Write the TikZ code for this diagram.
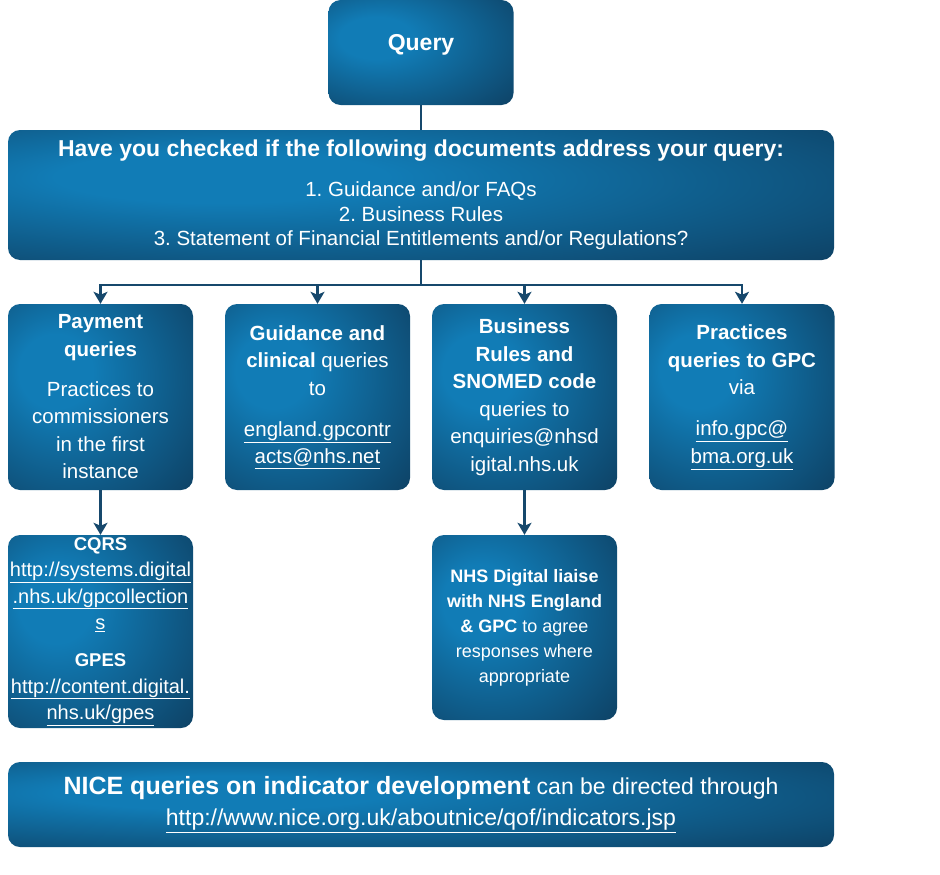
\documentclass[tikz,border=0pt]{standalone}
\usepackage{fontspec}
\setmainfont{Liberation Sans}
\usetikzlibrary{arrows.meta}
\definecolor{glowlight}{RGB}{17,124,182}
\definecolor{glowdark}{RGB}{13,52,82}
\definecolor{linkline}{RGB}{22,72,108}
\pgfdeclareradialshading{boxglow}{\pgfpoint{-14bp}{8bp}}{color(0bp)=(glowlight); color(10bp)=(glowlight); color(50bp)=(glowdark); color(75bp)=(glowdark)}
\newcommand{\fs}[2]{\fontsize{#1}{#2}\selectfont}
\frenchspacing

\begin{document}
\begin{tikzpicture}[x=1pt,y=-1pt,
        box/.style={rounded corners=12pt, shading=boxglow, text=white, align=center, inner sep=0pt},
        trunk/.style={draw=linkline, line width=2.8pt},
        link/.style={trunk, -{Stealth[length=12pt,width=14pt,inset=3pt]}}]
        \useasboundingbox (0,0) rectangle (940,875);
        \node[box, minimum width=185pt, minimum height=105pt, text depth=21pt, font=\fs{23}{28}\bfseries](query) at (421,52.5) {Query};
        \node[box, minimum width=826pt, minimum height=130pt, font=\fs{20.5}{24.5}](check) at (421,195)
            {{\fs{23}{27}\bfseries Have you checked if the following documents address your query:}\\[15.5pt]
             1. Guidance and/or FAQs\\ 2. Business Rules\\ 3. Statement of Financial Entitlements and/or Regulations?};
        \node[box, minimum width=185pt, minimum height=186pt, font=\fs{20.5}{27.5}](pay) at (100.5,397)
            {\textbf{Payment}\\ \textbf{queries}\\[12.5pt] Practices to\\ commissioners\\ in the first\\ instance};
        \node[box, minimum width=185pt, minimum height=186pt, font=\fs{20.5}{27.5}](guide) at (317.5,397)
            {\textbf{Guidance and}\\ \textbf{clinical} queries\\ to\\[13.5pt] \underline{england.gpcontr}\\ \underline{acts@nhs.net}};
        \node[box, minimum width=185pt, minimum height=186pt, font=\fs{20.5}{27.5}](rules) at (524.5,397)
            {\textbf{Business}\\ \textbf{Rules and}\\ \textbf{SNOMED code}\\ queries to\\ enquiries@nhsd\\ igital.nhs.uk};
        \node[box, minimum width=185pt, minimum height=186pt, font=\fs{20.5}{27.5}](gpc) at (742,397)
            {\textbf{Practices}\\ \textbf{queries to GPC}\\ via\\[13.5pt] \underline{info.gpc@}\\ \underline{bma.org.uk}};
        \node[box, minimum width=185pt, minimum height=193pt, font=\fs{20}{26.5}](cqrs) at (100.5,631.5)
            {{\fs{18.5}{26.5}\bfseries CQRS}\\ \underline{http://systems.digital}\\ \underline{.nhs.uk/gpcollection}\\ \underline{s}\\[10.5pt]
             {\fs{18.5}{26.5}\bfseries GPES}\\ \underline{http://content.digital.}\\ \underline{nhs.uk/gpes}};
        \node[box, minimum width=185pt, minimum height=185pt, font=\fs{18}{25}](liaise) at (524.5,627.5)
            {\textbf{NHS Digital liaise}\\ \textbf{with NHS England}\\ \textbf{\& GPC} to agree\\ responses where\\ appropriate};
        \node[box, minimum width=826pt, minimum height=85pt, font=\fs{23}{31}](nice) at (421,804.5)
            {{\fs{25}{31}\bfseries NICE queries on indicator development} can be directed through\\
             \underline{http://www.nice.org.uk/aboutnice/qof/indicators.jsp}};
        \coordinate (split) at (421,285);
        \draw[trunk] (query) -- (check);
        \draw[trunk] (check) -- (split);
        \draw[link] (split) -| (pay.north);
        \draw[link] (split) -| (guide.north);
        \draw[link] (split) -| (rules.north);
        \draw[link] (split) -| (gpc.north);
        \draw[link] (pay) -- (cqrs);
        \draw[link] (rules) -- (liaise);
\end{tikzpicture}
\end{document}
